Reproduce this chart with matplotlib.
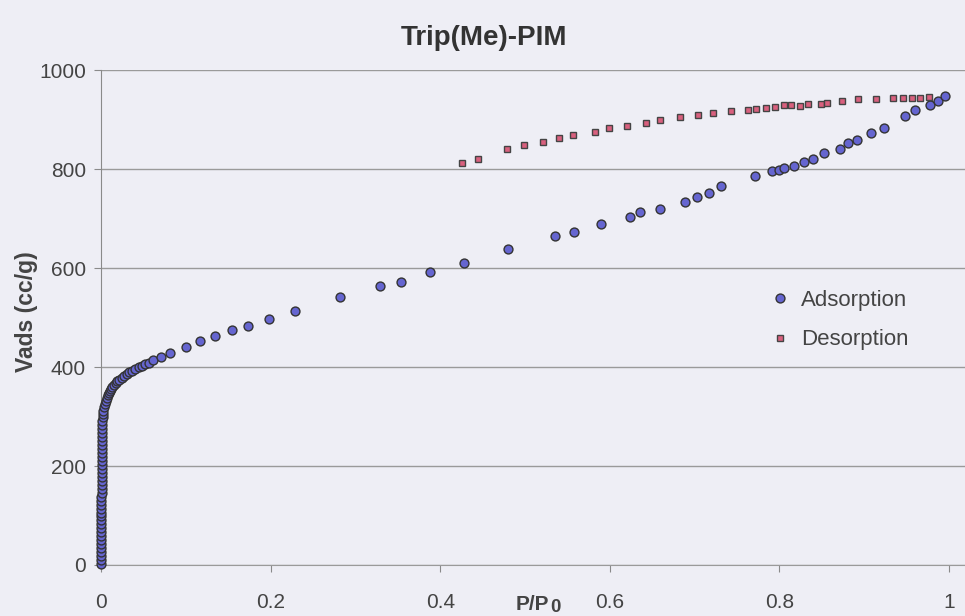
import matplotlib
matplotlib.use("Agg")
import matplotlib.pyplot as plt

# ---- data ----
ads_low_x = [0.00002, 0.00003, 0.00004, 0.00005, 0.00006, 0.00007, 0.00008, 0.00009,
             0.0001, 0.00011, 0.00012, 0.00013, 0.00014, 0.00015, 0.00016, 0.00017,
             0.00018, 0.0002, 0.00022, 0.00024, 0.00026, 0.00028, 0.0003, 0.00033,
             0.00036, 0.0004, 0.00044, 0.00048, 0.00053, 0.00058, 0.00064, 0.0007,
             0.00077, 0.00085, 0.00093, 0.001, 0.0012, 0.0014]
ads_low_y = [2, 10, 18, 26, 34, 42, 50, 58, 66, 74, 82, 90, 98, 106, 114, 122,
             130, 138, 146, 154, 162, 170, 178, 186, 194, 202, 210, 218, 226, 234,
             242, 250, 258, 266, 274, 282, 290, 298]
ads_knee_x = [0.0018, 0.0025, 0.0033, 0.0042, 0.0052, 0.0063, 0.0075, 0.0088, 0.010,
              0.0115, 0.013, 0.015, 0.017, 0.019, 0.021, 0.024, 0.027, 0.030, 0.033,
              0.036, 0.040, 0.044, 0.048, 0.052, 0.056]
ads_knee_y = [305, 312, 319, 326, 332, 338, 343, 348, 352, 356, 360, 364, 368, 371,
              374, 378, 382, 386, 389, 392, 396, 400, 403, 406, 409]
ads_x = [0.061, 0.070, 0.081, 0.100, 0.117, 0.134, 0.154, 0.173, 0.198, 0.228,
         0.282, 0.329, 0.354, 0.388, 0.428, 0.480, 0.535, 0.558, 0.590, 0.624,
         0.635, 0.659, 0.689, 0.703, 0.717, 0.731, 0.771, 0.791, 0.799, 0.806,
         0.817, 0.829, 0.840, 0.853, 0.871, 0.881, 0.891, 0.908, 0.923, 0.948,
         0.960, 0.978, 0.987, 0.995]
ads_y = [414, 421, 428, 440, 452, 463, 475, 483, 498, 514,
         541, 564, 572, 591, 611, 638, 665, 673, 688, 704,
         713, 720, 734, 743, 751, 766, 785, 796, 799, 803,
         807, 815, 820, 833, 840, 853, 858, 872, 882, 907,
         919, 929, 938, 947]
des_x = [0.426, 0.445, 0.479, 0.499, 0.521, 0.540, 0.556, 0.582, 0.599, 0.620,
         0.643, 0.659, 0.683, 0.704, 0.722, 0.743, 0.763, 0.773, 0.784, 0.795,
         0.805, 0.814, 0.824, 0.834, 0.849, 0.856, 0.874, 0.893, 0.914, 0.934,
         0.946, 0.956, 0.966, 0.977]
des_y = [813, 820, 840, 848, 855, 862, 868, 874, 882, 887,
         893, 899, 905, 910, 914, 917, 920, 921, 924, 926,
         929, 929, 928, 932, 932, 933, 937, 941, 941, 944,
         944, 944, 944, 945]

x_ticks = [0, 0.2, 0.4, 0.6, 0.8, 1]
x_tick_labels = ["0", "0.2", "0.4", "0.6", "0.8", "1"]
y_ticks = [0, 200, 400, 600, 800, 1000]

FONT = "Liberation Sans"
bg = "#eeeef5"
fig = plt.figure(figsize=(9.65, 6.16), dpi=100, facecolor=bg)
ax = fig.add_axes([0.105, 0.0828, 0.895, 0.8035], facecolor=bg)

ads_all_x = ads_low_x + ads_knee_x + ads_x
ads_all_y = ads_low_y + ads_knee_y + ads_y
ax.plot(ads_all_x, ads_all_y, linestyle="none", marker="o", markersize=6.4,
        markerfacecolor="#6565d0", markeredgecolor="#333333", markeredgewidth=1.0,
        label="Adsorption", zorder=3, clip_on=False)
ax.plot(des_x, des_y, linestyle="none", marker="s", markersize=4.6,
        markerfacecolor="#d9607e", markeredgecolor="#444444", markeredgewidth=1.0,
        label="Desorption", zorder=3, clip_on=False)

ax.set_xlim(0, 1.019)
ax.set_ylim(0, 1000)
ax.set_xticks(x_ticks)
ax.set_xticklabels(x_tick_labels)
ax.set_yticks(y_ticks)
ax.yaxis.grid(True, color="#9a9a9a", linewidth=1.0)
ax.set_axisbelow(True)
for s in ["top", "right"]:
    ax.spines[s].set_visible(False)
ax.spines["left"].set_color("#8a8a8a")
ax.spines["bottom"].set_color("#9a9a9a")
ax.tick_params(axis="both", colors="#8a8a8a", labelcolor="#444444",
               labelsize=15, length=5, direction="out")
ax.tick_params(axis="x", pad=15)
ax.tick_params(axis="y", pad=6)
for lab in ax.get_xticklabels() + ax.get_yticklabels():
    lab.set_fontfamily(FONT)

ax.set_ylabel("Vads (cc/g)", fontsize=16.5, fontweight="bold", color="#444444",
              family=FONT)
ax.yaxis.set_label_coords(-0.073, 0.511)
fig.text(0.5015, 0.938, "Trip(Me)-PIM", ha="center", va="center", fontsize=20,
         fontweight="bold", color="#333333", family=FONT)
fig.text(549 / 965, 1 - 604 / 616, "P/P", ha="right", va="center",
         fontsize=15, fontweight="bold", color="#444444", family=FONT)
fig.text(550 / 965, 1 - 607 / 616, "0", ha="left", va="center",
         fontsize=13.5, fontweight="bold", color="#444444", family=FONT)

leg = ax.legend(loc="center left", bbox_to_anchor=(0.752, 0.495), frameon=False,
                handletextpad=0.55, labelspacing=0.85, handlelength=0.8,
                prop={"family": FONT, "size": 16})
for t in leg.get_texts():
    t.set_color("#444444")

fig.savefig("out.png", dpi=100, facecolor=bg)
